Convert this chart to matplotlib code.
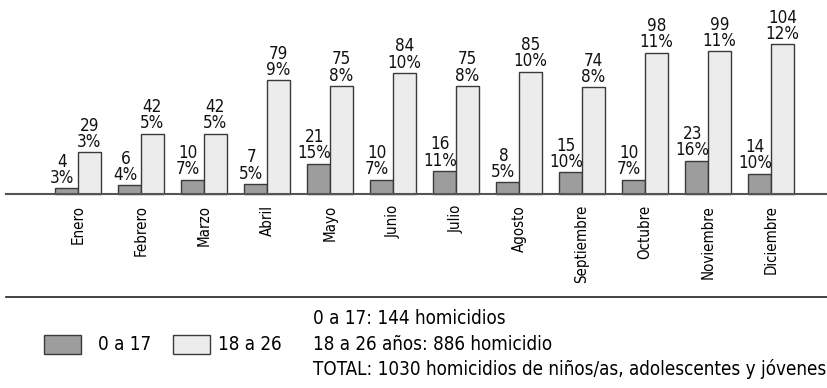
import matplotlib
matplotlib.use("Agg")
import matplotlib.pyplot as plt
from matplotlib.lines import Line2D
from matplotlib.patches import Rectangle
from matplotlib import font_manager

meses = ["Enero", "Febrero", "Marzo", "Abril", "Mayo", "Junio", "Julio",
         "Agosto", "Septiembre", "Octubre", "Noviembre", "Diciembre"]
menores = [4, 6, 10, 7, 21, 10, 16, 8, 15, 10, 23, 14]
menores_pct = [3, 4, 7, 5, 15, 7, 11, 5, 10, 7, 16, 10]
jovenes = [29, 42, 42, 79, 75, 84, 75, 85, 74, 98, 99, 104]
jovenes_pct = [3, 5, 5, 9, 8, 10, 8, 10, 8, 11, 11, 12]

resumen = ["0 a 17: 144 homicidios",
           "18 a 26 años: 886 homicidio",
           "TOTAL: 1030 homicidios de niños/as, adolescentes y jóvenes"]


# fuente estrecha de peso normal, si hay alguna instalada
def es_normal(f):
    return str(f.weight).lower() in ("400", "normal", "regular", "book") and f.style == "normal"


estrechas = [f for f in font_manager.fontManager.ttflist
             if ("Narrow" in f.name or "Condensed" in f.name
                 or str(f.stretch).lower() in ("condensed", "semi-condensed"))
             and es_normal(f) and "Serif" not in f.name and "Mono" not in f.name]
archivo = estrechas[0].fname if estrechas else None


def fp(size):
    if archivo:
        return font_manager.FontProperties(fname=archivo, size=size)
    return font_manager.FontProperties(family="Liberation Sans", size=size)


OSCURO = "#9d9d9d"
CLARO = "#ebeceb"
BORDE = "#3a3a3a"

W, H = 828, 388
fig = plt.figure(figsize=(W / 100, H / 100), dpi=100)
renderer = fig.canvas.get_renderer()


def ajustar(t, ancho_px, eje="x"):
    # escala el tamaño de letra para que el texto ocupe ancho_px
    bb = t.get_window_extent(renderer)
    actual = bb.width if eje == "x" else bb.height
    t.set_fontsize(t.get_fontsize() * ancho_px / actual)


# ejes: una unidad en x = 63 px, primer grupo centrado en x=78 px
ax = fig.add_axes([6 / W, (H - 194) / H, 822 / W, 194 / H])
ax.set_xlim(-72 / 63, 750 / 63)
ax.set_ylim(0, 194 / 1.44)

ancho = 0.365
x = list(range(len(meses)))
xa = [i - ancho / 2 for i in x]
xb = [i + ancho / 2 for i in x]
ax.bar(xa, menores, ancho, color=OSCURO, edgecolor=BORDE, linewidth=1.0, clip_on=False)
ax.bar(xb, jovenes, ancho, color=CLARO, edgecolor=BORDE, linewidth=1.0, clip_on=False)

etiquetas = []
for i in x:
    etiquetas.append(ax.annotate(f"{menores[i]}\n{menores_pct[i]}%", (xa[i], menores[i]),
                                 xytext=(-3, 1), textcoords="offset points", ha="center", va="bottom",
                                 fontproperties=fp(12), linespacing=0.88, color="#111111"))
    etiquetas.append(ax.annotate(f"{jovenes[i]}\n{jovenes_pct[i]}%", (xb[i], jovenes[i]),
                                 xytext=(0, 1), textcoords="offset points", ha="center", va="bottom",
                                 fontproperties=fp(12), linespacing=0.88, color="#111111"))

for lado in ["top", "left", "right"]:
    ax.spines[lado].set_visible(False)
ax.spines["bottom"].set_color("#555555")
ax.spines["bottom"].set_linewidth(1.5)
ax.set_yticks([])
ax.set_xticks(x)
ax.set_xticklabels(meses, rotation=90, va="top", fontproperties=fp(12))
ax.tick_params(axis="x", length=0, pad=8)
ax.patch.set_alpha(0)

# "12%" ocupa unos 34 px de ancho
ajustar(etiquetas[-1], 34)
for t in etiquetas:
    t.set_fontsize(etiquetas[-1].get_fontsize())

# "Septiembre" ocupa unos 78 px de alto
ticks = ax.get_xticklabels()
ajustar(ticks[8], 78, eje="y")
for t in ticks:
    t.set_fontsize(ticks[8].get_fontsize())

# linea separadora de la leyenda
fig.add_artist(Line2D([6 / W, 1], [(H - 297) / H] * 2, color="#222222", linewidth=1.2))

# leyenda
y_ley = (H - 344) / H
alto_caja = 19 / H
fig.add_artist(Rectangle((44 / W, y_ley - alto_caja / 2), 37 / W, alto_caja,
                         facecolor=OSCURO, edgecolor=BORDE, linewidth=1.0))
t1 = fig.text(98 / W, y_ley, "0 a 17", fontproperties=fp(13), va="center", ha="left")
fig.add_artist(Rectangle((173 / W, y_ley - alto_caja / 2), 37 / W, alto_caja,
                         facecolor=CLARO, edgecolor=BORDE, linewidth=1.0))
t2 = fig.text(218 / W, y_ley, "18 a 26", fontproperties=fp(13), va="center", ha="left")

lineas = []
for k, linea in enumerate(resumen):
    lineas.append(fig.text(313 / W, (H - 319 - 25 * k) / H, linea, fontproperties=fp(13),
                           va="center", ha="left"))
ajustar(lineas[2], 512)
for t in lineas + [t1, t2]:
    t.set_fontsize(lineas[2].get_fontsize())

fig.savefig("out.png", dpi=100, facecolor="white")
